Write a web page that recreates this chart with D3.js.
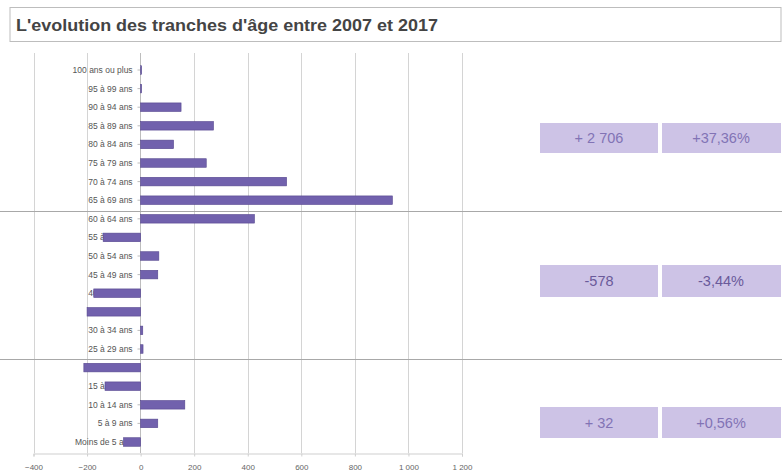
<!DOCTYPE html>
<meta charset="utf-8">
<style>
  body { margin: 0; background: #fff; }
  text { font-family: "Liberation Sans", Arial, sans-serif; }
</style>
<script src="https://d3js.org/d3.v7.min.js"></script>
<div id="chart"></div>
<script>
  // age groups, top to bottom
  var tranches = ["100 ans ou plus", "95 à 99 ans", "90 à 94 ans", "85 à 89 ans", "80 à 84 ans",
    "75 à 79 ans", "70 à 74 ans", "65 à 69 ans", "60 à 64 ans", "55 à 59 ans", "50 à 54 ans",
    "45 à 49 ans", "40 à 44 ans", "35 à 39 ans", "30 à 34 ans", "25 à 29 ans", "20 à 24 ans",
    "15 à 19 ans", "10 à 14 ans", "5 à 9 ans", "Moins de 5 ans"];
  // change 2007 -> 2017
  var evolution = [2, 3, 151, 272, 123, 245, 545, 940, 425, -140, 68, 64, -175, -200, 8, 9, -212,
    -133, 165, 64, -64];
  var xTicks = [-400, -200, 0, 200, 400, 600, 800, 1000, 1200];
  var resumeNombre = ["+ 2 706", "-578", "+ 32"];
  var resumePct = ["+37,36%", "-3,44%", "+0,56%"];

  var W = 782, H = 475;
  var svg = d3.select("#chart").append("svg")
    .attr("width", W)
    .attr("height", H);

  // title box
  svg.append("rect")
    .attr("x", 10).attr("y", 7.5)
    .attr("width", 771).attr("height", 34)
    .attr("fill", "#fff")
    .attr("stroke", "#bdbdbd");
  svg.append("text")
    .attr("x", 16).attr("y", 31)
    .attr("font-size", 17)
    .attr("font-weight", "bold")
    .attr("fill", "#444")
    .attr("textLength", 422)
    .attr("lengthAdjust", "spacingAndGlyphs")
    .text("L'evolution des tranches d'âge entre 2007 et 2017");

  var x = d3.scaleLinear()
    .domain([-400, 1200])
    .range([33.5, 462]);

  var y = d3.scaleBand()
    .domain(tranches)
    .range([60.7, 451.3])
    .paddingInner(0.54)
    .paddingOuter(0.27);

  var fr = d3.formatLocale({ decimal: ",", thousands: "\u00a0", grouping: [3], currency: ["", " €"] });
  var fmt = fr.format(",d");

  // vertical grid lines
  svg.append("g")
    .selectAll("line")
    .data(xTicks.filter(function (d) { return d !== 0; }))
    .enter()
    .append("line")
    .attr("x1", function (d) { return Math.round(x(d)) + 0.5; })
    .attr("x2", function (d) { return Math.round(x(d)) + 0.5; })
    .attr("y1", 53)
    .attr("y2", 453)
    .attr("stroke", "#d4d4d4");

  // bottom axis
  var xAxis = svg.append("g")
    .attr("transform", "translate(0,453.5)")
    .call(d3.axisBottom(x).tickValues(xTicks).tickFormat(fmt).tickSize(3).tickPadding(8));
  xAxis.select(".domain").attr("stroke", "#cfcfcf");
  xAxis.selectAll(".tick line").attr("stroke", "#cfcfcf");
  xAxis.selectAll("text")
    .attr("font-size", 8)
    .attr("fill", "#666")
    .style("font-family", "'Liberation Sans', Arial, sans-serif");

  // category labels (bars are drawn over them)
  svg.append("g")
    .selectAll("text")
    .data(tranches)
    .enter()
    .append("text")
    .attr("x", x(0) - 8)
    .attr("y", function (d) { return y(d) + y.bandwidth() / 2; })
    .attr("dy", "0.35em")
    .attr("text-anchor", "end")
    .attr("font-size", 8.5)
    .attr("fill", "#555")
    .text(function (d) { return d; });

  // category axis at zero
  var yAxis = svg.append("g")
    .attr("transform", "translate(" + (Math.round(x(0)) - 0.5) + ",0)")
    .call(d3.axisLeft(y).tickSize(3).tickFormat(""));
  yAxis.select(".domain").attr("stroke", "#bdbdbd").attr("d", "M0,53V453");
  yAxis.selectAll(".tick line").attr("stroke", "#bdbdbd");

  // bars
  svg.append("g")
    .selectAll("rect")
    .data(evolution)
    .enter()
    .append("rect")
    .attr("x", function (d) { return x(Math.min(0, d)); })
    .attr("y", function (d, i) { return y(tranches[i]); })
    .attr("width", function (d) { return Math.max(1, Math.abs(x(d) - x(0))); })
    .attr("height", y.bandwidth())
    .attr("fill", "#7161ad")
    .attr("stroke", "#56478f")
    .attr("stroke-width", 0.6);

  // group separators
  svg.append("g")
    .selectAll("line")
    .data([211.5, 359.5])
    .enter()
    .append("line")
    .attr("x1", 0).attr("x2", W)
    .attr("y1", function (d) { return d; })
    .attr("y2", function (d) { return d; })
    .attr("stroke", "#a8a8a8");

  // summary boxes
  var boxY = [123, 265, 407];
  var boxH = [30, 32, 31];
  var txtCol = ["#8273b5", "#6a5a9a", "#8273b5"];
  var grp = svg.append("g").selectAll("g")
    .data(resumeNombre)
    .enter()
    .append("g")
    .attr("transform", function (d, i) { return "translate(0," + boxY[i] + ")"; });
  grp.append("rect")
    .attr("x", 540).attr("width", 118)
    .attr("height", function (d, i) { return boxH[i]; })
    .attr("fill", "#cdc3e6");
  grp.append("rect")
    .attr("x", 662).attr("width", 119)
    .attr("height", function (d, i) { return boxH[i]; })
    .attr("fill", "#cdc3e6");
  grp.append("text")
    .attr("x", 599)
    .attr("y", function (d, i) { return boxH[i] / 2; })
    .attr("dy", "0.36em")
    .attr("text-anchor", "middle")
    .attr("font-size", 14.5)
    .attr("fill", function (d, i) { return txtCol[i]; })
    .text(function (d) { return d; });
  grp.append("text")
    .attr("x", 721)
    .attr("y", function (d, i) { return boxH[i] / 2; })
    .attr("dy", "0.36em")
    .attr("text-anchor", "middle")
    .attr("font-size", 14.5)
    .attr("fill", function (d, i) { return txtCol[i]; })
    .text(function (d, i) { return resumePct[i]; });
</script>
